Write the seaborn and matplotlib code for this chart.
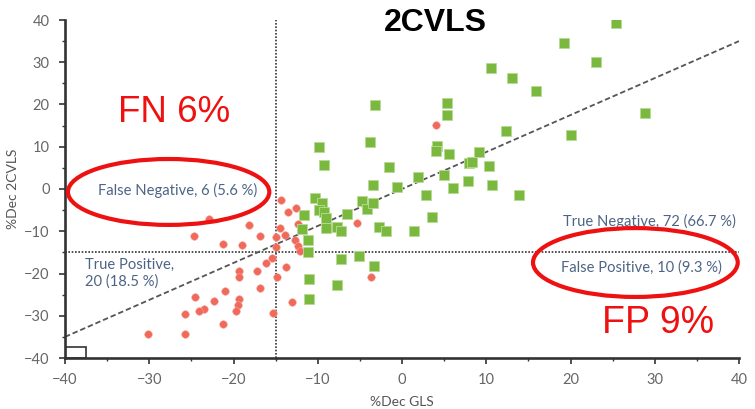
import matplotlib
matplotlib.use("Agg")
import matplotlib.pyplot as plt
from matplotlib.patches import Ellipse, Rectangle
from matplotlib.ticker import MultipleLocator
import numpy as np
import pandas as pd
import seaborn as sns

# %Dec GLS (x) vs %Dec 2CVLS (y), circles
red_x = [-14.4, -13.5, -12.6, -22.9, -18.2, -24.7, -16.8, -14.5, -13.9, -12.3,
         -12.7, -21.3, -19.0, -15.0, -15.0, -12.3, -12.1, -15.4, -16.1, -17.25,
         -19.4, -19.4, -13.8, -14.8, -16.9, -21.0, -24.6, -22.35, -19.3, -19.5,
         -19.7, -23.5, -24.05, -25.8, -15.35, -21.2, -30.2, -25.7, -13.0, -5.4,
         -3.7, -8.6, 4.0]
red_y = [-2.5, -5.5, -4.4, -7.1, -8.5, -11.2, -11.05, -9.2, -11.0, -8.3,
         -12.0, -12.9, -13.3, -11.4, -13.8, -13.6, -14.7, -16.4, -17.4, -19.3,
         -19.4, -20.75, -18.4, -20.75, -23.5, -24.1, -25.6, -26.6, -26.0, -27.45,
         -28.8, -28.4, -28.9, -29.65, -29.35, -32.0, -34.4, -34.3, -26.7, -8.0,
         -20.75, -9.3, 15.2]

# squares
green_x = [-9.8, -3.8, -9.3, -1.55, -3.5, -0.6, -10.3, -9.5, -9.9, -9.2,
           -9.0, -11.6, -4.8, -4.15, -3.5, -6.5, -9.0, -7.7, -7.2, -11.9,
           -11.2, -11.2, -7.2, -5.1, -2.7, -1.85, -3.3, -11.0, -7.7, -11.05,
           5.35, 5.35, 12.3, 4.2, 4.0, 5.6, 9.15, 8.0, 8.3, 10.3,
           1.9, 4.95, 7.8, 6.1, 10.7, 13.9, 2.9, 3.6, 1.4, 25.45,
           19.2, 23.0, 15.9, 28.9, 20.05, 10.6, 13.0, -3.2]
green_y = [9.9, 11.1, 5.75, 5.1, 1.0, 0.4, -2.05, -3.2, -5.0, -5.4,
           -6.9, -6.2, -2.9, -4.8, -3.4, -6.0, -9.3, -8.9, -9.9, -9.5,
           -12.1, -14.8, -16.5, -15.9, -8.9, -9.9, -18.2, -21.4, -22.7, -26.0,
           20.3, 17.5, 13.65, 10.2, 9.0, 8.3, 8.85, 6.1, 6.3, 5.5,
           2.8, 3.2, 1.9, 0.15, 0.9, -1.35, -1.35, -6.6, -10.0, 39.4,
           34.55, 30.0, 23.1, 17.9, 12.7, 28.7, 26.35, 19.8]

threshold = -15
ticks = [-40, -30, -20, -10, 0, 10, 20, 30, 40]

sns.set_style("ticks")
plt.rcParams["font.family"] = ["Lato", "DejaVu Sans"]

fig = plt.figure(figsize=(7.55, 4.09), dpi=100)
ax = fig.add_axes([65 / 755, 51 / 409, 674 / 755, 338 / 409])

red_df = pd.DataFrame({"x": red_x, "y": red_y})
green_df = pd.DataFrame({"x": green_x, "y": green_y})

sns.scatterplot(data=red_df, x="x", y="y", ax=ax, color="#f06a5c", marker="o",
                s=30, edgecolor="#f6a49b", linewidth=0.4, zorder=3)
sns.scatterplot(data=green_df, x="x", y="y", ax=ax, color="#7bb83e", marker="s",
                s=48, edgecolor="#b7dc96", linewidth=0.6, zorder=4)

# reference line and cut-off lines
line_x = np.array([-40, 40])
ax.plot(line_x, 0.875 * line_x, ls=(0, (3, 1.6)), color="#555555", lw=1.3, zorder=2)
ax.axvline(threshold, color="#333333", ls=(0, (1, 1)), lw=1.2, zorder=1)
ax.axhline(threshold, color="#333333", ls=(0, (1, 1)), lw=1.2, zorder=1)
ax.add_patch(Rectangle((-40, -40), 2.5, 2.7, fill=False, edgecolor="#333333", lw=1.2, zorder=2))

ax.set_xlim(-40, 40)
ax.set_ylim(-40, 40)
ax.set_xticks(ticks)
ax.set_yticks(ticks)
ax.xaxis.set_minor_locator(MultipleLocator(5))
ax.yaxis.set_minor_locator(MultipleLocator(5))
ax.tick_params(which="major", length=4, width=1.2, color="#333333",
               labelsize=10.5, labelcolor="#666666", pad=7)
ax.tick_params(which="minor", length=2.5, width=1.0, color="#333333")
ax.set_xlabel("%Dec GLS", fontsize=10, color="#555555", labelpad=6)
ax.set_ylabel("%Dec 2CVLS", fontsize=10, color="#555555", labelpad=4)
sns.despine(ax=ax)
for side in ["left", "bottom"]:
    ax.spines[side].set_linewidth(1.9)
    ax.spines[side].set_color("#333333")

note_color = "#4d6485"
note_size = 10.6
ax.text(-26.6, -0.3, "False Negative, 6 (5.6 %)", ha="center", va="center",
        fontsize=note_size, color=note_color, zorder=5)
ax.text(-37.6, -19.9, "True Positive,\n20 (18.5 %)", ha="left", va="center",
        fontsize=note_size, color=note_color, linespacing=1.2, zorder=5)
ax.text(39.6, -7.6, "True Negative, 72 (66.7 %)", ha="right", va="center",
        fontsize=note_size, color=note_color, zorder=5)
ax.text(38.0, -18.5, "False Positive, 10 (9.3 %)", ha="right", va="center",
        fontsize=note_size, color=note_color, zorder=5)

# highlighted rates
ax.add_patch(Ellipse((-27.7, -0.7), 23.9, 15.6, fill=False, edgecolor="#ee1111",
                     lw=3, zorder=6, clip_on=False))
ax.add_patch(Ellipse((27.7, -17.4), 24.3, 16.3, fill=False, edgecolor="#ee1111",
                     lw=3, zorder=6, clip_on=False))
fig.text(174 / 755, 1 - 113 / 409, "FN 6%", ha="center", va="center",
         fontsize=26.5, color="#ee1111", family=["Liberation Sans", "DejaVu Sans"])
fig.text(658 / 755, 1 - 323 / 409, "FP 9%", ha="center", va="center",
         fontsize=27, color="#ee1111", family=["Liberation Sans", "DejaVu Sans"])
fig.text(435 / 755, 1 - 23 / 409, "2CVLS", ha="center", va="center",
         fontsize=23, fontweight="bold", color="black",
         family=["Liberation Sans", "DejaVu Sans"])

fig.savefig("out.png", dpi=100)
